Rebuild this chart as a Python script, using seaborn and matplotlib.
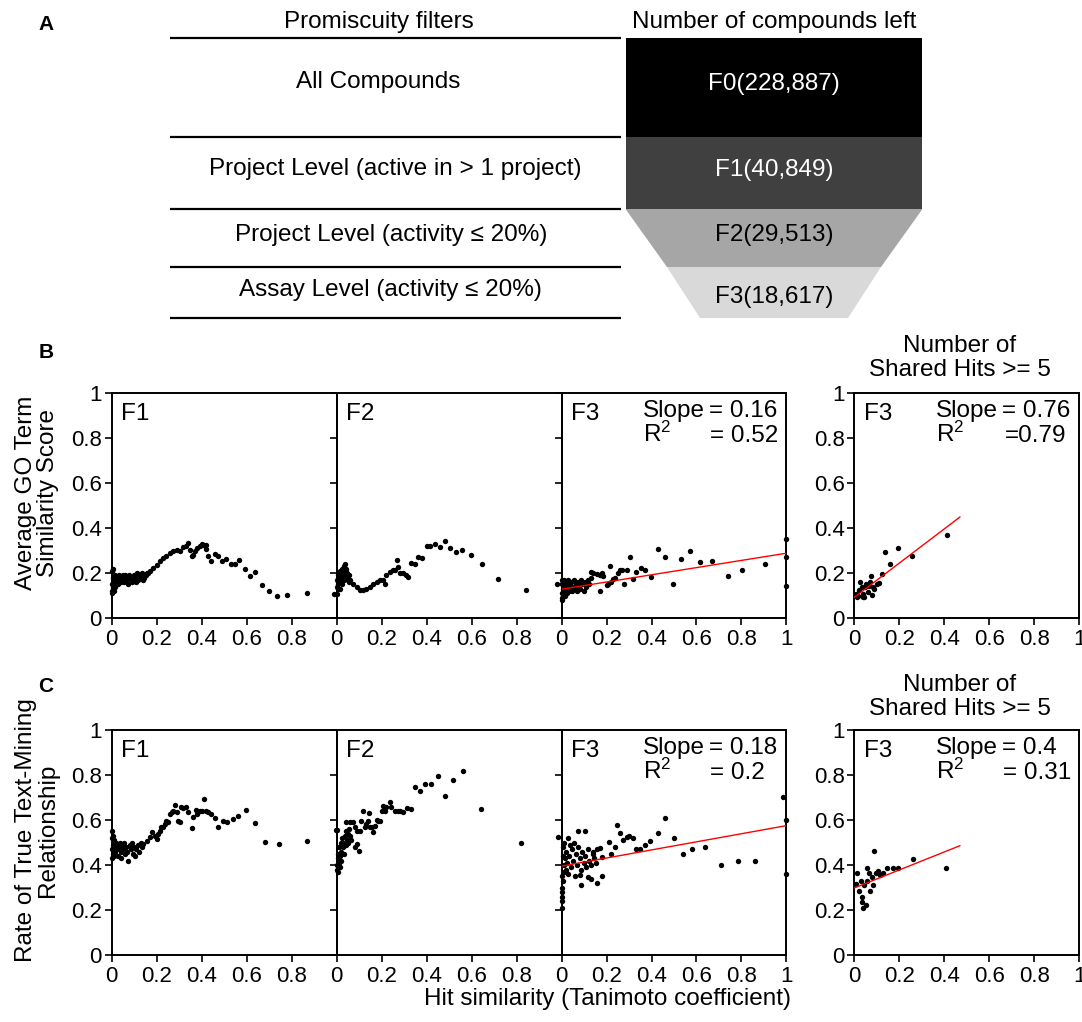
import numpy as np
import matplotlib
matplotlib.use("Agg")
import matplotlib.pyplot as plt
from matplotlib.patches import Polygon
import seaborn as sns

sns.set_style("white")
plt.rcParams["font.family"] = ["Liberation Sans", "DejaVu Sans"]
plt.rcParams["mathtext.fontset"] = "custom"
plt.rcParams["mathtext.rm"] = "Liberation Sans"
plt.rcParams["mathtext.it"] = "Liberation Sans:italic"
plt.rcParams["xtick.bottom"] = True
plt.rcParams["ytick.left"] = True
plt.rcParams["xtick.color"] = "black"
plt.rcParams["ytick.color"] = "black"
plt.rcParams["axes.edgecolor"] = "black"
plt.rcParams["text.color"] = "black"
plt.rcParams["axes.labelcolor"] = "black"

# ---------------- panel A: promiscuity filter funnel ----------------
filters = ["All Compounds",
           "Project Level (active in > 1 project)",
           "Project Level (activity \u2264 20%)",
           "Assay Level (activity \u2264 20%)"]
compounds_left = [228887, 40849, 29513, 18617]
funnel_colors = ["#000000", "#404040", "#a6a6a6", "#d9d9d9"]
funnel_text_colors = ["white", "white", "black", "black"]

# ---------------- panel B: average GO term similarity ----------------
go_f1_x = [0.001, 0.002, 0.003, 0.004, 0.005, 0.006, 0.007, 0.008, 0.009, 0.011,
           0.012, 0.014, 0.016, 0.018, 0.021, 0.024, 0.027, 0.030, 0.034, 0.038,
           0.041, 0.045, 0.049, 0.053, 0.057, 0.061, 0.066, 0.070, 0.075, 0.079,
           0.084, 0.089, 0.094, 0.098, 0.103, 0.108, 0.113, 0.118, 0.124, 0.129,
           0.134, 0.140, 0.146, 0.152, 0.158, 0.163,
           0.170, 0.185, 0.200, 0.215, 0.230, 0.244, 0.259, 0.274, 0.289, 0.304,
           0.319, 0.333, 0.341, 0.348, 0.356, 0.363, 0.370, 0.378, 0.393, 0.400,
           0.407, 0.419, 0.422, 0.430, 0.444, 0.459, 0.474, 0.493, 0.511, 0.533,
           0.548, 0.567, 0.593, 0.615, 0.637, 0.667, 0.701, 0.736, 0.781, 0.867,
           0.990]
go_f1_y = [0.12, 0.21, 0.15, 0.11, 0.18, 0.14, 0.22, 0.13, 0.17, 0.12,
           0.16, 0.14, 0.19, 0.15, 0.17, 0.16, 0.18, 0.15, 0.19, 0.17,
           0.16, 0.18, 0.19, 0.17, 0.16, 0.19, 0.18, 0.17, 0.15, 0.19,
           0.18, 0.16, 0.17, 0.19, 0.18, 0.16, 0.20, 0.17, 0.19, 0.18,
           0.20, 0.17, 0.18, 0.19, 0.20, 0.20,
           0.207, 0.222, 0.237, 0.252, 0.267, 0.274, 0.289, 0.296, 0.304, 0.299,
           0.314, 0.319, 0.333, 0.301, 0.274, 0.279, 0.296, 0.311, 0.319, 0.329,
           0.326, 0.326, 0.307, 0.274, 0.252, 0.286, 0.277, 0.252, 0.264, 0.241,
           0.241, 0.259, 0.218, 0.188, 0.203, 0.145, 0.119, 0.099, 0.104, 0.111,
           0.108]

go_f2_x = [0.000, 0.002, 0.004, 0.005, 0.007, 0.008, 0.010, 0.012, 0.013, 0.015,
           0.017, 0.019, 0.021, 0.023, 0.025, 0.027, 0.030, 0.032, 0.034, 0.036,
           0.038, 0.040, 0.042, 0.045, 0.048, 0.051, 0.054, 0.057,
           0.059, 0.074, 0.089, 0.104, 0.119, 0.133, 0.148, 0.163, 0.178, 0.193,
           0.207, 0.215, 0.222, 0.237, 0.252, 0.259, 0.267, 0.274, 0.281, 0.296,
           0.308, 0.319, 0.333, 0.348, 0.363, 0.378, 0.400, 0.415, 0.437, 0.459,
           0.481, 0.504, 0.530, 0.556, 0.596, 0.647, 0.719, 0.840, 0.978]
go_f2_y = [0.105, 0.14, 0.17, 0.13, 0.19, 0.15, 0.20, 0.16, 0.18, 0.13,
           0.21, 0.17, 0.19, 0.15, 0.22, 0.18, 0.20, 0.23, 0.17, 0.24,
           0.21, 0.19, 0.22, 0.18, 0.20, 0.17, 0.19, 0.16,
           0.168, 0.153, 0.138, 0.123, 0.123, 0.131, 0.138, 0.153, 0.160, 0.168,
           0.171, 0.153, 0.190, 0.205, 0.212, 0.215, 0.257, 0.227, 0.201, 0.198,
           0.190, 0.183, 0.245, 0.239, 0.272, 0.267, 0.321, 0.321, 0.328, 0.314,
           0.342, 0.309, 0.293, 0.302, 0.279, 0.242, 0.175, 0.123, 0.150]

go_f3_x = [0.000, 0.001, 0.002, 0.003, 0.004, 0.005, 0.006, 0.008, 0.009, 0.011,
           0.013, 0.015, 0.017, 0.019, 0.022, 0.025, 0.028, 0.031, 0.034, 0.037,
           0.040, 0.044, 0.048, 0.052, 0.056, 0.060, 0.064, 0.068, 0.073, 0.078,
           0.083, 0.088, 0.093, 0.099, 0.105, 0.111, 0.117, 0.123, 0.129,
           0.133, 0.141, 0.156, 0.170, 0.178, 0.185, 0.170, 0.200, 0.207, 0.215,
           0.222, 0.230, 0.237, 0.252, 0.259, 0.267, 0.279, 0.289, 0.304, 0.319,
           0.333, 0.353, 0.370, 0.396, 0.427, 0.459, 0.496, 0.530, 0.570, 0.615,
           0.670, 0.738, 0.804, 0.904, 1.0, 1.0, 1.0]
go_f3_y = [0.08, 0.15, 0.11, 0.17, 0.09, 0.13, 0.16, 0.10, 0.14, 0.12,
           0.17, 0.10, 0.15, 0.13, 0.16, 0.11, 0.14, 0.17, 0.12, 0.15,
           0.13, 0.16, 0.12, 0.14, 0.17, 0.13, 0.15, 0.12, 0.16, 0.14,
           0.13, 0.17, 0.15, 0.12, 0.16, 0.14, 0.17, 0.15, 0.18,
           0.205, 0.201, 0.195, 0.190, 0.201, 0.186, 0.120, 0.146, 0.153, 0.232,
           0.160, 0.175, 0.180, 0.201, 0.212, 0.215, 0.150, 0.215, 0.269, 0.175,
           0.204, 0.224, 0.215, 0.183, 0.305, 0.272, 0.150, 0.262, 0.296, 0.250,
           0.253, 0.186, 0.212, 0.239, 0.352, 0.272, 0.141]

go_hits5_x = [0.136, 0.196, 0.159, 0.258, 0.410, 0.121, 0.111, 0.099, 0.074, 0.070,
              0.084, 0.080, 0.062, 0.052, 0.047, 0.040, 0.037, 0.025, 0.022, 0.018,
              0.010, 0.007, 0.089, 0.067, 0.033, 0.043]
go_hits5_y = [0.293, 0.311, 0.241, 0.277, 0.369, 0.196, 0.156, 0.149, 0.185, 0.159,
              0.137, 0.103, 0.115, 0.152, 0.137, 0.107, 0.092, 0.162, 0.125, 0.100,
              0.092, 0.107, 0.129, 0.144, 0.137, 0.092]

# ---------------- panel C: rate of true text-mining relationship ----------------
tm_f1_x = [0.000, 0.001, 0.002, 0.004, 0.005, 0.006, 0.008, 0.009, 0.011, 0.013,
           0.015, 0.017, 0.020, 0.023, 0.026, 0.029, 0.032, 0.036, 0.040, 0.044,
           0.048, 0.052, 0.056, 0.061, 0.066, 0.070, 0.075, 0.080, 0.085, 0.090,
           0.095, 0.100, 0.105, 0.111, 0.117, 0.123, 0.129, 0.135,
           0.141, 0.156, 0.170, 0.178, 0.193, 0.200, 0.207, 0.215, 0.222, 0.230,
           0.237, 0.244, 0.252, 0.259, 0.267, 0.274, 0.281, 0.289, 0.296, 0.304,
           0.311, 0.319, 0.330, 0.341, 0.356, 0.363, 0.375, 0.381, 0.393, 0.400,
           0.410, 0.419, 0.430, 0.444, 0.459, 0.474, 0.496, 0.514, 0.538, 0.563,
           0.597, 0.636, 0.683, 0.744, 0.870, 0.996]
tm_f1_y = [0.47, 0.52, 0.43, 0.55, 0.49, 0.45, 0.53, 0.50, 0.44, 0.51,
           0.48, 0.46, 0.50, 0.47, 0.49, 0.44, 0.48, 0.50, 0.46, 0.43,
           0.49, 0.47, 0.50, 0.45, 0.48, 0.46, 0.42, 0.49, 0.47, 0.50,
           0.45, 0.48, 0.44, 0.47, 0.49, 0.46, 0.50, 0.48,
           0.493, 0.508, 0.523, 0.545, 0.530, 0.516, 0.538, 0.553, 0.567, 0.570,
           0.582, 0.597, 0.590, 0.627, 0.634, 0.641, 0.667, 0.634, 0.597, 0.590,
           0.656, 0.653, 0.659, 0.634, 0.563, 0.612, 0.644, 0.627, 0.639, 0.641,
           0.692, 0.639, 0.634, 0.627, 0.609, 0.567, 0.597, 0.593, 0.604, 0.619,
           0.644, 0.585, 0.502, 0.493, 0.508, 0.556]

tm_f2_x = [0.000, 0.002, 0.003, 0.005, 0.006, 0.008, 0.010, 0.012, 0.014, 0.016,
           0.018, 0.020, 0.022, 0.025, 0.028, 0.031, 0.034, 0.037, 0.040, 0.043,
           0.046, 0.050, 0.053, 0.057, 0.060, 0.065,
           0.044, 0.059, 0.074, 0.081, 0.089, 0.104, 0.111, 0.119, 0.126, 0.133,
           0.141, 0.145, 0.148, 0.156, 0.163, 0.170, 0.178, 0.185, 0.193, 0.101,
           0.089, 0.081, 0.200, 0.207, 0.215, 0.222, 0.237, 0.244, 0.259, 0.274,
           0.281, 0.296, 0.314, 0.330, 0.351, 0.370, 0.393, 0.418, 0.449, 0.481,
           0.519, 0.563, 0.644, 0.819, 0.985]
tm_f2_y = [0.556, 0.40, 0.38, 0.43, 0.37, 0.45, 0.41, 0.48, 0.44, 0.39,
           0.50, 0.46, 0.42, 0.52, 0.48, 0.50, 0.45, 0.53, 0.49, 0.55,
           0.51, 0.54, 0.50, 0.56, 0.53, 0.51,
           0.590, 0.590, 0.590, 0.567, 0.553, 0.553, 0.597, 0.641, 0.567, 0.582,
           0.597, 0.630, 0.567, 0.570, 0.545, 0.575, 0.600, 0.597, 0.597, 0.461,
           0.493, 0.479, 0.641, 0.664, 0.641, 0.659, 0.679, 0.656, 0.641, 0.641,
           0.641, 0.637, 0.653, 0.649, 0.745, 0.730, 0.760, 0.760, 0.797, 0.705,
           0.779, 0.819, 0.647, 0.496, 0.523]

tm_f3_x = [0.000, 0.000, 0.001, 0.002, 0.003, 0.004, 0.005, 0.006, 0.007, 0.009,
           0.011, 0.013, 0.015, 0.018, 0.021, 0.024, 0.027, 0.030, 0.034, 0.038,
           0.042, 0.046, 0.050, 0.055, 0.060, 0.065, 0.070, 0.075, 0.080, 0.086,
           0.092, 0.098, 0.104, 0.110, 0.116, 0.122, 0.130, 0.138, 0.146, 0.155,
           0.074, 0.104, 0.081, 0.086, 0.119, 0.133, 0.141, 0.156, 0.170, 0.178,
           0.156, 0.178, 0.210, 0.222, 0.237, 0.247, 0.259, 0.274, 0.289, 0.301,
           0.316, 0.330, 0.351, 0.370, 0.393, 0.427, 0.462, 0.501, 0.541, 0.582,
           0.637, 0.708, 0.785, 0.859, 0.985, 1.0, 1.0]
tm_f3_y = [0.21, 0.26, 0.30, 0.24, 0.35, 0.28, 0.44, 0.33, 0.48, 0.40,
           0.37, 0.50, 0.43, 0.38, 0.46, 0.41, 0.52, 0.36, 0.44, 0.49,
           0.39, 0.47, 0.42, 0.50, 0.35, 0.45, 0.40, 0.48, 0.43, 0.38,
           0.46, 0.41, 0.44, 0.39, 0.47, 0.42, 0.40, 0.45, 0.43, 0.41,
           0.550, 0.550, 0.357, 0.311, 0.348, 0.338, 0.456, 0.471, 0.476, 0.434,
           0.320, 0.353, 0.501, 0.449, 0.479, 0.579, 0.541, 0.513, 0.523, 0.530,
           0.520, 0.471, 0.471, 0.490, 0.508, 0.541, 0.609, 0.520, 0.449, 0.471,
           0.479, 0.400, 0.419, 0.419, 0.701, 0.600, 0.360]

tm_hits5_x = [0.089, 0.259, 0.406, 0.196, 0.170, 0.144, 0.126, 0.114, 0.107, 0.096,
              0.077, 0.081, 0.070, 0.065, 0.055, 0.058, 0.044, 0.028, 0.013, 0.007,
              0.022, 0.033, 0.036, 0.040, 0.050]
tm_hits5_y = [0.464, 0.426, 0.387, 0.387, 0.387, 0.387, 0.365, 0.357, 0.375, 0.365,
              0.345, 0.313, 0.286, 0.363, 0.387, 0.327, 0.313, 0.327, 0.365, 0.315,
              0.286, 0.260, 0.237, 0.208, 0.222]

# regression fits shown on the F3 panels (GO all, GO >=5 hits, TM all, TM >=5 hits)
fit_slopes = [0.16, 0.76, 0.18, 0.4]
fit_intercepts = [0.128, 0.092, 0.395, 0.298]
fit_x_max = [1.0, 0.47, 1.0, 0.47]
fit_slope_text = ["= 0.16", "= 0.76", "= 0.18", "= 0.4"]
fit_r2_text = ["= 0.52", "=0.79", "= 0.2", "= 0.31"]

axis_ticks = [0, 0.2, 0.4, 0.6, 0.8, 1]
axis_tick_labels = ["0", "0.2", "0.4", "0.6", "0.8", "1"]

# ---------------- figure ----------------
W, H = 1082, 1022
fig = plt.figure(figsize=(W / 100, H / 100), dpi=100)
BIG = 17.5
TICK = 16


def px_box(left, top, width, height):
    return [left / W, 1 - (top + height) / H, width / W, height / H]


# panel A drawn in a pixel-like coordinate system of its own axes
axA = fig.add_axes(px_box(170, 38, 752, 280))
axA.set_xlim(0, 752)
axA.set_ylim(280, 0)
axA.axis("off")
row_edges = [0, 99, 171, 229, 280]
funnel_center = 604
funnel_half_top = [148.5, 148.5, 148.5, 107]
funnel_half_bottom = [148.5, 148.5, 107, 74]
axA.hlines(row_edges, 0, 451, color="black", lw=1.6, clip_on=False)
filter_label_x = [208, 225, 221, 220]
filter_label_y = [44, 131, 197, 252]
count_label_y = [46, 132, 197, 259]
for i, (name, n) in enumerate(zip(filters, compounds_left)):
    y0, y1 = row_edges[i], row_edges[i + 1]
    ht, hb = funnel_half_top[i], funnel_half_bottom[i]
    poly = Polygon([(funnel_center - ht, y0), (funnel_center + ht, y0),
                    (funnel_center + hb, y1), (funnel_center - hb, y1)],
                   closed=True, facecolor=funnel_colors[i], edgecolor="none")
    axA.add_patch(poly)
    axA.text(filter_label_x[i], filter_label_y[i], name, ha="center", va="center",
             fontsize=BIG)
    axA.text(funnel_center, count_label_y[i], f"F{i}({n:,})", ha="center",
             va="center", fontsize=BIG, color=funnel_text_colors[i])
axA.text(209, -16, "Promiscuity filters", ha="center", va="center", fontsize=BIG,
         clip_on=False)
axA.text(604, -16, "Number of compounds left", ha="center", va="center",
         fontsize=BIG, clip_on=False)

# panels B and C
col_left = [111.5, 336.5, 561.5, 854.3]
row_top = [393, 730]
panel_w, panel_h = 225, 225

rows = [
    [(go_f1_x, go_f1_y, "F1", None), (go_f2_x, go_f2_y, "F2", None),
     (go_f3_x, go_f3_y, "F3", 0), (go_hits5_x, go_hits5_y, "F3", 1)],
    [(tm_f1_x, tm_f1_y, "F1", None), (tm_f2_x, tm_f2_y, "F2", None),
     (tm_f3_x, tm_f3_y, "F3", 2), (tm_hits5_x, tm_hits5_y, "F3", 3)],
]

for r, row in enumerate(rows):
    for c, (xs, ys, tag, fit) in enumerate(row):
        ax = fig.add_axes(px_box(col_left[c], row_top[r], panel_w, panel_h))
        sns.scatterplot(x=xs, y=ys, ax=ax, color="black", s=15, linewidth=0,
                        legend=False, clip_on=False, zorder=3)
        if fit is not None:
            lx = np.array([0.0, fit_x_max[fit]])
            ly = fit_intercepts[fit] + fit_slopes[fit] * lx
            sns.lineplot(x=lx, y=ly, ax=ax, color="red", lw=1.0, zorder=4)
            ax.text(0.364, 0.895, "Slope", transform=ax.transAxes, fontsize=BIG,
                    va="baseline")
            ax.text(0.655, 0.895, fit_slope_text[fit], transform=ax.transAxes,
                    fontsize=BIG, va="baseline")
            ax.text(0.364, 0.782, "R$^2$", transform=ax.transAxes, fontsize=BIG,
                    va="baseline")
            r2x = 0.67 if fit_r2_text[fit].startswith("=0") else 0.662
            ax.text(r2x, 0.782, fit_r2_text[fit], transform=ax.transAxes,
                    fontsize=BIG, va="baseline")
        ax.text(0.042, 0.878, tag, transform=ax.transAxes, fontsize=BIG,
                va="baseline")
        ax.set_xlim(0, 1)
        ax.set_ylim(0, 1)
        if c in (0, 1):
            ax.set_xticks(axis_ticks[:-1])
            ax.set_xticklabels(axis_tick_labels[:-1])
        else:
            ax.set_xticks(axis_ticks)
            ax.set_xticklabels(axis_tick_labels)
        ax.set_yticks(axis_ticks)
        if c in (0, 3):
            ax.set_yticklabels(axis_tick_labels)
        else:
            ax.set_yticklabels([])
        ax.tick_params(axis="both", direction="out", length=5, width=1.2,
                       labelsize=TICK, colors="black")
        ax.tick_params(axis="x", pad=3)
        ax.tick_params(axis="y", pad=2)
        for sp in ax.spines.values():
            sp.set_visible(True)
            sp.set_linewidth(1.4)
            sp.set_color("black")
        ax.set_xlabel("")
        ax.set_ylabel("")
        ax.set_facecolor("none")

# row titles and axis labels
fig.text(37 / W, 1 - 493 / H, "Average GO Term\nSimilarity Score", rotation=90,
         ha="center", va="center", fontsize=BIG, linespacing=0.95)
fig.text(37 / W, 1 - 830 / H, "Rate of True Text-Mining\nRelationship", rotation=90,
         ha="center", va="center", fontsize=BIG, linespacing=0.95)
fig.text(607 / W, 1 - 999 / H, "Hit similarity (Tanimoto coefficient)", ha="center",
         va="center", fontsize=BIG)
for ty in (358, 697):
    fig.text(960 / W, 1 - ty / H, "Number of\nShared Hits >= 5", ha="center",
             va="center", fontsize=BIG, linespacing=1.15)

for letter, ly in (("A", 25), ("B", 352), ("C", 686)):
    fig.text(46 / W, 1 - ly / H, letter, ha="center", va="center", fontsize=15,
             fontweight="bold")

fig.savefig("out.png", dpi=100)
